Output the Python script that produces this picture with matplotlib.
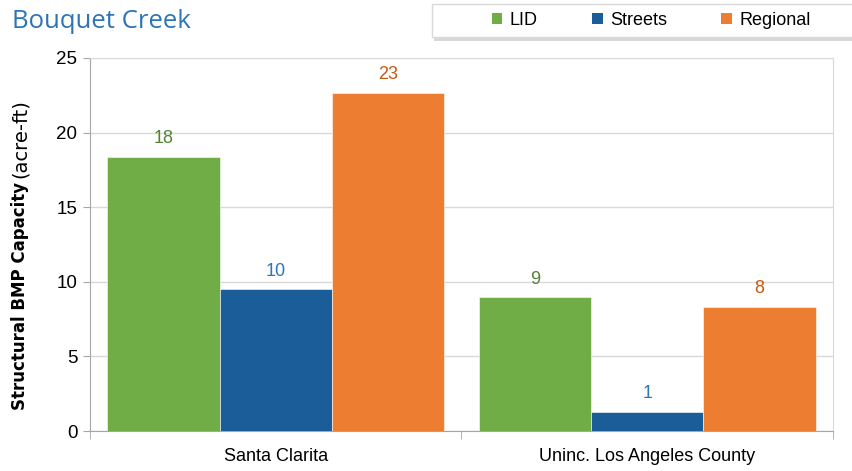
import numpy as np
import matplotlib.pyplot as plt
from matplotlib.patches import Patch, Rectangle

# data
categories = ["Santa Clarita", "Uninc. Los Angeles County"]
series_names = ["LID", "Streets", "Regional"]
lid = [18.35, 8.95]
streets = [9.5, 1.27]
regional = [22.65, 8.3]

bar_colors = ["#70ad47", "#1b5d98", "#ed7d31"]
label_colors = ["#548235", "#2e75b6", "#c55a11"]

plt.rcParams['font.family'] = ['Liberation Sans Narrow', 'Liberation Sans', 'DejaVu Sans']

fig = plt.figure(figsize=(8.53, 4.71), dpi=100)
ax = fig.add_axes([90 / 853, 1 - 431 / 471, (833 - 90) / 853, (431 - 58) / 471])

x = np.arange(len(categories))
w = 0.302
for i, (vals, col, lcol) in enumerate(zip([lid, streets, regional], bar_colors, label_colors)):
    pos = x + (i - 1) * w
    ax.bar(pos, vals, width=w, color=col, edgecolor="white", linewidth=0.4, zorder=3)
    for px, v in zip(pos, vals):
        ax.annotate(f"{int(v + 0.5)}", (px, v), xytext=(0, 7), textcoords="offset points",
                    ha="center", va="bottom", fontsize=13, color=lcol)

ax.set_xlim(-0.5, 1.5)
ax.set_ylim(0, 25)
ax.set_yticks(range(0, 26, 5))
ax.yaxis.grid(True, color="#d9d9d9", linewidth=1, zorder=0)
ax.set_axisbelow(True)

ax.set_xticks(x)
ax.set_xticklabels(categories, fontsize=13)
ax.set_xticks([-0.5, 0.5, 1.5], minor=True)
ax.tick_params(axis="x", which="major", length=0, pad=12)
ax.tick_params(axis="x", which="minor", length=6, color="#a6a6a6")
ax.tick_params(axis="y", length=5, color="#a6a6a6", labelsize=13.5, pad=4)

for s in ["left", "bottom"]:
    ax.spines[s].set_color("#a6a6a6")
for s in ["right", "top"]:
    ax.spines[s].set_color("#d9d9d9")

# y label: bold part then normal part, laid end to end
t1 = fig.text(20 / 853, 1 - 410 / 471, "Structural BMP Capacity", rotation=90, fontsize=12,
              fontweight="bold", family="DejaVu Sans", ha="center", va="bottom")
fig.canvas.draw()
bb = t1.get_window_extent()
fig.text(20 / 853, (bb.y1 + 4) / fig.bbox.height, "(acre-ft)", rotation=90, fontsize=14,
         family="DejaVu Sans", ha="center", va="bottom")

fig.text(12 / 853, 1 - 22 / 471, "Bouquet Creek", fontsize=18.5, color="#2e74b5",
         ha="left", va="center", family=["Open Sans", "DejaVu Sans"])

# legend box with a soft shadow
bx0, bx1, by0, by1 = 432 / 853, 875 / 853, 1 - 37 / 471, 1 - 4 / 471
fig.patches.append(Rectangle((bx0 + 2 / 853, by0 - 4 / 471), bx1 - bx0, by1 - by0,
                             transform=fig.transFigure, facecolor="#bfbfbf",
                             edgecolor="none", alpha=0.6, zorder=1))
fig.patches.append(Rectangle((bx0, by0), bx1 - bx0, by1 - by0, transform=fig.transFigure,
                             facecolor="white", edgecolor="#d9d9d9", linewidth=1, zorder=2))
handles = [Patch(facecolor=c) for c in bar_colors]
leg = fig.legend(handles, series_names, loc="center", ncol=3,
                 bbox_to_anchor=(651 / 853, (by0 + by1) / 2),
                 fontsize=13, frameon=False, columnspacing=3.0,
                 handlelength=0.6, handleheight=0.6, handletextpad=0.4)
leg.set_zorder(3)

fig.savefig("out.png", dpi=100)
